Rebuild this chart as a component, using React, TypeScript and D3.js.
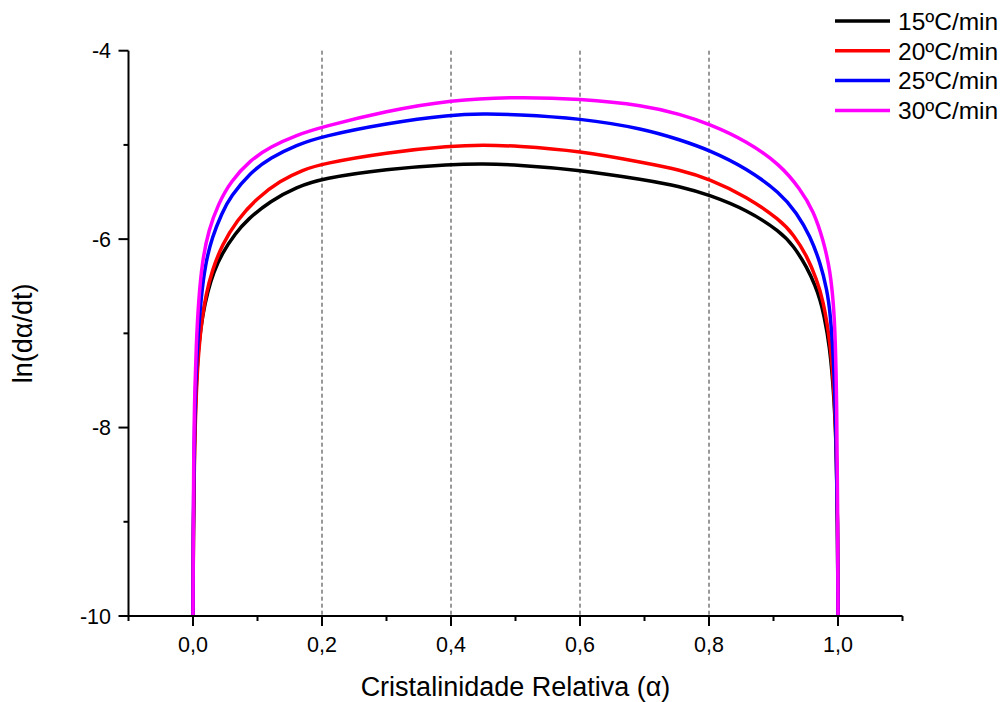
import React from "react";
import * as d3 from "d3";

const seriesNames = ["15ºC/min", "20ºC/min", "25ºC/min", "30ºC/min"];
const seriesColors = ["#000000", "#ff0000", "#0000ff", "#ff00ff"];

const alpha15 = [0, 0.0005, 0.002, 0.005, 0.009, 0.015, 0.023, 0.032, 0.045, 0.0656, 0.084, 0.12, 0.161, 0.2, 0.3, 0.4, 0.45, 0.5, 0.6, 0.7, 0.7555, 0.8, 0.859, 0.9106, 0.931, 0.952, 0.965, 0.9725, 0.9777, 0.987, 0.9942, 0.998, 0.9995, 1];
const ln15 = [-10, -9.1, -8.2, -7.5, -7.1, -6.8, -6.55, -6.35, -6.15, -5.94, -5.794, -5.594, -5.447, -5.356, -5.255, -5.206, -5.2, -5.21, -5.265, -5.37, -5.44, -5.53, -5.69, -5.92, -6.07, -6.3, -6.5, -6.65, -6.79, -7.12, -7.68, -8.35, -9.2, -10];

const alpha20 = [0, 0.0005, 0.002, 0.005, 0.009, 0.014, 0.02, 0.0295, 0.045, 0.068, 0.099, 0.135, 0.171, 0.2, 0.3, 0.4, 0.45, 0.5, 0.6, 0.7, 0.7555, 0.8, 0.859, 0.9106, 0.931, 0.952, 0.967, 0.9767, 0.988, 0.9945, 0.998, 0.9995, 1];
const ln20 = [-10, -9.2, -8.33, -7.6, -7.16, -6.84, -6.595, -6.334, -6.06, -5.8, -5.565, -5.379, -5.264, -5.2, -5.08, -5.01, -5.0, -5.01, -5.064, -5.19, -5.265, -5.36, -5.55, -5.8, -5.95, -6.18, -6.43, -6.64, -7.08, -7.65, -8.35, -9.2, -10];

const alpha25 = [0, 0.0004, 0.0015, 0.004, 0.008, 0.0129, 0.019, 0.0295, 0.045, 0.058, 0.089, 0.12, 0.161, 0.2, 0.3, 0.4, 0.45, 0.5, 0.6, 0.7, 0.7555, 0.8, 0.859, 0.9106, 0.936, 0.957, 0.9725, 0.983, 0.988, 0.993, 0.997, 0.9993, 1];
const ln25 = [-10, -9.2, -8.3, -7.5, -7.0, -6.6, -6.27, -5.98, -5.72, -5.55, -5.292, -5.136, -5.0, -4.91, -4.77, -4.68, -4.67, -4.675, -4.717, -4.83, -4.947, -5.053, -5.25, -5.51, -5.72, -5.97, -6.25, -6.54, -6.78, -7.25, -8.0, -9.0, -10];

const alpha30 = [0, 0.0003, 0.001, 0.002, 0.005, 0.0087, 0.014, 0.0242, 0.0397, 0.058, 0.089, 0.12, 0.161, 0.2, 0.3, 0.4, 0.5, 0.6, 0.7, 0.7555, 0.8, 0.859, 0.9106, 0.9416, 0.962, 0.9777, 0.988, 0.9932, 0.9958, 0.998, 0.9995, 1];
const ln30 = [-10, -9.2, -8.4, -7.8, -7.1, -6.65, -6.25, -5.9, -5.62, -5.39, -5.16, -5.02, -4.894, -4.81, -4.64, -4.523, -4.49, -4.51, -4.58, -4.675, -4.775, -4.96, -5.21, -5.47, -5.7, -6.02, -6.34, -6.7, -7.05, -7.7, -8.8, -10];

const seriesAlpha = [alpha15, alpha20, alpha25, alpha30];
const seriesLn = [ln15, ln20, ln25, ln30];

const xMajorTicks = [0, 0.2, 0.4, 0.6, 0.8, 1.0];
const xMinorTicks = [-0.1, 0.1, 0.3, 0.5, 0.7, 0.9, 1.1];
const xTickLabels = ["0,0", "0,2", "0,4", "0,6", "0,8", "1,0"];
const yMajorTicks = [-4, -6, -8, -10];
const yMinorTicks = [-5, -7, -9];
const gridValues = [0.2, 0.4, 0.6, 0.8];

const FONT = "Arial, 'Liberation Sans', Helvetica, sans-serif";

export default function App() {
  const W = 1005, H = 702;
  const left = 128.5, right = 902.5, top = 50.7, bottom = 616;
  const x = d3.scaleLinear().domain([-0.1, 1.1]).range([left, right]);
  const y = d3.scaleLinear().domain([-10, -4]).range([bottom, top]);
  const line = d3
    .line<[number, number]>()
    .x((d) => x(d[0]))
    .y((d) => y(d[1]))
    .curve(d3.curveBasis);

  const majorLen = 10, minorLen = 5;

  return (
    <svg width={W} height={H} style={{ position: "absolute", left: 0, top: 0, background: "#fff" }}>
      <rect width={W} height={H} fill="#fff" />
      {gridValues.map((g) => (
        <line key={"g" + g} x1={x(g)} x2={x(g)} y1={top} y2={bottom} stroke="#333" strokeWidth={1} strokeDasharray="4,3" />
      ))}
      {seriesAlpha.map((a, i) => (
        <path
          key={"s" + i}
          d={line(a.map((v, j) => [v, seriesLn[i][j]] as [number, number])) || ""}
          fill="none"
          stroke={seriesColors[i]}
          strokeWidth={3.5}
          strokeLinejoin="round"
        />
      ))}
      <line x1={left} x2={right} y1={bottom} y2={bottom} stroke="#000" strokeWidth={2} />
      <line x1={left} x2={left} y1={top} y2={bottom} stroke="#000" strokeWidth={2} />
      {xMajorTicks.map((t, i) => (
        <g key={"xt" + i}>
          <line x1={x(t)} x2={x(t)} y1={bottom} y2={bottom + majorLen} stroke="#000" strokeWidth={2} />
          <text x={x(t)} y={652} textAnchor="middle" fontFamily={FONT} fontSize={21.5} fill="#000">
            {xTickLabels[i]}
          </text>
        </g>
      ))}
      {xMinorTicks.map((t) => (
        <line key={"xm" + t} x1={x(t)} x2={x(t)} y1={bottom} y2={bottom + minorLen} stroke="#000" strokeWidth={2} />
      ))}
      {yMajorTicks.map((t) => (
        <g key={"yt" + t}>
          <line x1={left - majorLen} x2={left} y1={y(t)} y2={y(t)} stroke="#000" strokeWidth={2} />
          <text x={111} y={y(t)} dy="0.36em" textAnchor="end" fontFamily={FONT} fontSize={21.5} fill="#000">
            {t}
          </text>
        </g>
      ))}
      {yMinorTicks.map((t) => (
        <line key={"ym" + t} x1={left - minorLen} x2={left} y1={y(t)} y2={y(t)} stroke="#000" strokeWidth={2} />
      ))}
      <text x={(left + right) / 2} y={696} textAnchor="middle" fontFamily={FONT} fontSize={27} fill="#000">
        Cristalinidade Relativa (α)
      </text>
      <text transform={`translate(32, ${(top + bottom) / 2}) rotate(-90)`} textAnchor="middle" fontFamily={FONT} fontSize={27} fill="#000">
        ln(dα/dt)
      </text>
      {seriesNames.map((n, i) => (
        <g key={"l" + i}>
          <line x1={835} x2={890} y1={21 + i * 29.8} y2={21 + i * 29.8} stroke={seriesColors[i]} strokeWidth={3.5} />
          <text x={898} y={21 + i * 29.8} dy="0.36em" fontFamily={FONT} fontSize={24.5} fill="#000">
            {n}
          </text>
        </g>
      ))}
    </svg>
  );
}
